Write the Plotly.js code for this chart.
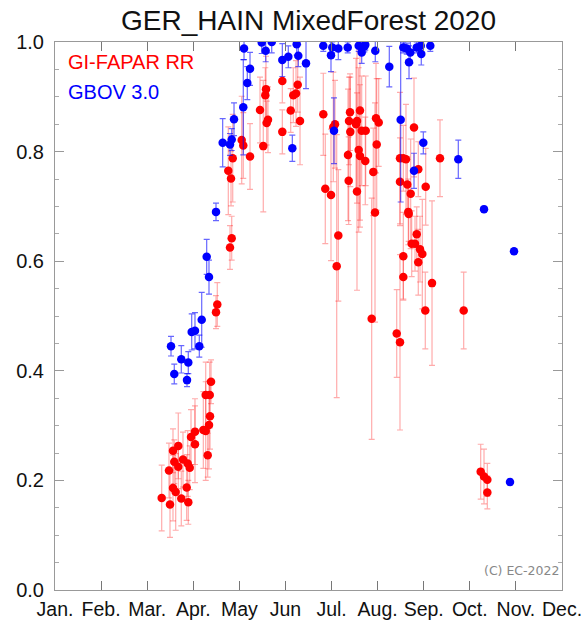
<!DOCTYPE html>
<html>
<head>
<meta charset="utf-8">
<script src="https://cdn.plot.ly/plotly-3.0.1.min.js"></script>
<style>html,body{margin:0;padding:0;background:#fff;}#chart{width:581px;height:624px;}</style>
</head>
<body>
<div id="chart"></div>
<script>
// x values are decimal months (1 = start of January)
const monthTicks = [1,2,3,4,5,6,7,8,9,10,11,12];
const monthLabels = ["Jan.","Feb.","Mar.","Apr.","May","Jun","Jul.","Aug.","Sep.","Oct.","Nov.","Dec."];

const redMonth = [3.315,3.495,3.473,3.560,3.619,3.588,3.560,3.675,3.675,3.777,3.740,3.857,3.892,3.879,3.923,3.951,4.037,4.037,4.218,4.270,4.341,4.363,4.313,4.270,4.357,4.385,4.521,4.493,4.797,4.834,4.760,4.819,4.856,5.051,5.085,5.231,5.519,5.448,5.578,5.563,5.621,5.593,5.932,5.932,6.114,6.170,6.229,6.266,6.316,6.821,7.075,7.038,6.864,6.988,7.401,7.379,7.407,7.357,7.372,7.552,7.617,7.531,7.654,7.741,7.589,7.617,7.732,7.552,7.965,8.023,7.980,7.906,7.943,8.485,8.557,8.615,8.789,8.882,8.485,8.644,8.717,9.043,8.665,8.674,9.353,7.147,7.112,7.871,8.414,8.485,8.557,8.557,8.848,8.739,8.811,8.919,8.969,8.882,9.034,9.180,9.867,10.236,10.308,10.380,10.380];
const redValue = [0.168,0.156,0.218,0.186,0.179,0.234,0.254,0.263,0.225,0.238,0.167,0.187,0.160,0.231,0.223,0.279,0.289,0.266,0.292,0.290,0.301,0.317,0.246,0.356,0.356,0.380,0.521,0.507,0.625,0.642,0.765,0.751,0.788,0.821,0.811,0.791,0.810,0.876,0.914,0.903,0.858,0.852,0.929,0.836,0.875,0.903,0.906,0.922,0.856,0.868,0.850,0.845,0.732,0.721,0.872,0.856,0.836,0.794,0.747,0.856,0.875,0.850,0.838,0.838,0.803,0.792,0.783,0.727,0.861,0.853,0.813,0.763,0.689,0.788,0.788,0.786,0.844,0.768,0.745,0.740,0.723,0.736,0.690,0.686,0.788,0.647,0.591,0.495,0.468,0.452,0.609,0.571,0.649,0.632,0.632,0.622,0.613,0.598,0.510,0.560,0.510,0.216,0.207,0.201,0.178];
const redError = [0.06,0.06,0.05,0.06,0.07,0.04,0.04,0.06,0.04,0.05,0.05,0.06,0.04,0.06,0.04,0.05,0.06,0.07,0.07,0.09,0.08,0.06,0.04,0.06,0.06,0.04,0.04,0.03,0.04,0.04,0.08,0.05,0.08,0.08,0.06,0.06,0.12,0.06,0.06,0.05,0.06,0.04,0.04,0.04,0.04,0.05,0.06,0.05,0.08,0.075,0.08,0.10,0.10,0.12,0.07,0.08,0.10,0.12,0.08,0.15,0.20,0.12,0.10,0.10,0.15,0.13,0.08,0.18,0.10,0.08,0.12,0.08,0.20,0.12,0.06,0.10,0.09,0.05,0.08,0.05,0.10,0.07,0.06,0.05,0.07,0.12,0.24,0.22,0.08,0.16,0.08,0.04,0.05,0.06,0.05,0.06,0.10,0.06,0.07,0.15,0.07,0.05,0.05,0.03,0.03];

const blueMonth = [3.517,3.588,3.740,3.892,3.864,3.966,4.037,4.131,4.183,4.291,4.341,4.493,4.638,4.797,4.834,4.884,5.085,5.172,5.231,5.101,5.485,5.571,5.702,5.932,6.062,6.244,6.279,6.446,6.149,6.821,6.988,7.016,7.147,7.053,7.351,7.589,7.654,7.732,7.711,7.949,8.253,8.557,8.631,8.709,8.681,8.848,8.935,8.947,9.143,8.500,8.991,8.789,9.750,10.308,10.959,10.872];
const blueValue = [0.445,0.394,0.421,0.415,0.383,0.471,0.473,0.445,0.493,0.608,0.571,0.690,0.816,0.813,0.822,0.859,0.881,0.925,0.951,0.988,0.999,0.984,1.000,0.967,0.973,0.996,0.975,0.961,0.806,0.993,0.976,0.990,0.988,0.838,0.990,0.993,0.981,0.995,0.992,0.984,0.955,0.990,0.988,0.981,0.963,0.990,0.993,0.978,0.993,0.858,0.816,0.765,0.786,0.695,0.618,0.197];
const blueError = [0.018,0.018,0.025,0.02,0.012,0.033,0.033,0.02,0.05,0.032,0.031,0.016,0.044,0.02,0.02,0.03,0.087,0.03,0.03,0.02,0.02,0.02,0.02,0.03,0.02,0.02,0.02,0.046,0.024,0.01,0.03,0.01,0.02,0.06,0.01,0.01,0.02,0.01,0.01,0.02,0.037,0.01,0.01,0.02,0.03,0.01,0.01,0.02,0.01,0.15,0.02,0.032,0.035,0.005,0.005,0.005];

const fontFam = '"Liberation Sans", Arial, Helvetica, sans-serif';

const traces = [
  {
    type: 'scatter', mode: 'markers', name: 'GI-FAPAR RR',
    x: redMonth, y: redValue,
    error_y: {type: 'data', array: redError, visible: true, color: 'rgba(255,0,0,0.33)', thickness: 1.2, width: 3},
    marker: {color: '#ff0000', size: 8.5, line: {width: 0}},
    cliponaxis: true
  },
  {
    type: 'scatter', mode: 'markers', name: 'GBOV 3.0',
    x: blueMonth, y: blueValue,
    error_y: {type: 'data', array: blueError, visible: true, color: 'rgba(0,0,255,0.6)', thickness: 1.2, width: 3},
    marker: {color: '#0000ff', size: 8.5, line: {width: 0}},
    cliponaxis: true
  }
];

const layout = {
  width: 581, height: 624,
  margin: {l: 55, r: 19, t: 42, b: 34},
  paper_bgcolor: '#ffffff', plot_bgcolor: '#ffffff',
  showlegend: false,
  font: {family: fontFam, color: '#111'},
  title: {text: 'GER_HAIN MixedForest 2020', font: {family: fontFam, size: 28, color: '#111'},
          x: 0.531, xanchor: 'center', y: 0.968, yanchor: 'middle', xref: 'container', yref: 'container'},
  xaxis: {
    range: [1, 12], tickmode: 'array', tickvals: monthTicks, ticktext: monthLabels,
    ticks: 'inside', ticklen: 9, tickcolor: '#777', tickwidth: 1,
    showline: true, linecolor: '#999', linewidth: 1, mirror: 'ticks',
    showgrid: false, zeroline: false, ticklabeloverflow: 'allow',
    tickfont: {family: fontFam, size: 19.5, color: '#111'}, ticklabelstandoff: 2
  },
  yaxis: {
    range: [0, 1], tickmode: 'array', tickvals: [0, 0.2, 0.4, 0.6, 0.8, 1.0],
    ticktext: ['0.0','0.2','0.4','0.6','0.8','1.0'],
    ticks: 'inside', ticklen: 9, tickcolor: '#999', tickwidth: 1,
    minor: {dtick: 0.05, ticks: 'inside', ticklen: 4, tickcolor: '#aaa', showgrid: false},
    showline: true, linecolor: '#999', linewidth: 1, mirror: 'ticks',
    showgrid: false, zeroline: false, ticklabeloverflow: 'allow',
    tickfont: {family: fontFam, size: 20, color: '#111'}, ticklabelstandoff: 6
  },
  annotations: [
    {text: 'GI-FAPAR RR', xref: 'paper', yref: 'paper', x: 0.022, y: 0.9635, xanchor: 'left', yanchor: 'middle',
     showarrow: false, font: {family: fontFam, size: 20, color: '#ff0000'}},
    {text: 'GBOV 3.0', xref: 'paper', yref: 'paper', x: 0.022, y: 0.909, xanchor: 'left', yanchor: 'middle',
     showarrow: false, font: {family: fontFam, size: 20, color: '#0000ff'}},
    {text: '(C) EC-2022', xref: 'paper', yref: 'paper', x: 0.998, y: 0.035, xanchor: 'right', yanchor: 'middle',
     showarrow: false, font: {family: '"DejaVu Sans", sans-serif', size: 12.5, color: '#888'}}
  ]
};

Plotly.newPlot('chart', traces, layout, {displayModeBar: false, staticPlot: true});
</script>
</body>
</html>
